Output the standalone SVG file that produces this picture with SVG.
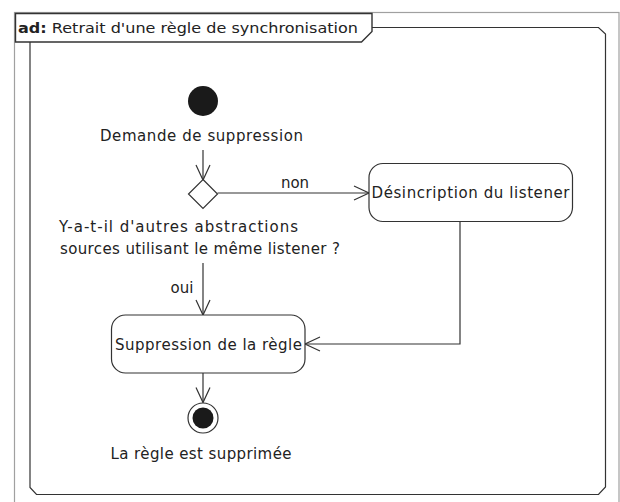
<svg xmlns="http://www.w3.org/2000/svg" width="620" height="502" viewBox="0 0 620 502">
<style>
  .t{font-family:"DejaVu Sans","Liberation Sans",sans-serif;font-size:15px;fill:#222;}
  .tt{font-family:"DejaVu Sans","Liberation Sans",sans-serif;font-size:14px;fill:#222;}
  .ln{fill:none;stroke:#333;stroke-width:1.2;}
  .nd{fill:#fff;stroke:#333;stroke-width:1.2;}
</style>
<defs>
  <marker id="arr" markerUnits="userSpaceOnUse" markerWidth="20" markerHeight="20" viewBox="-16 -10 20 20" refX="0" refY="0" orient="auto">
    <path d="M-15,-7 L0,0 L-15,7" fill="none" stroke="#333" stroke-width="1.2"/>
  </marker>
</defs>
<rect width="620" height="502" fill="#fff"/>
<g id="frame">
  <rect x="14.5" y="12.5" width="604.5" height="500" fill="none" stroke="#a0a0a0" stroke-width="1.2"/>
  <path class="ln" d="M372,27.5 H598.5 L605.5,34 V487 L598.5,494.5 H36.5 L30,487.5 V42" stroke-width="1.5"/>
  <path d="M15.5,13.5 H372 V31.5 L361.5,42 H15.5 Z" fill="#fff" stroke="#333" stroke-width="1.4"/>
  <text class="tt" x="18" y="33" textLength="340" lengthAdjust="spacingAndGlyphs"><tspan font-weight="bold">ad:</tspan> Retrait d'une règle de synchronisation</text>
</g>
<g id="connectors">
  <line class="ln" x1="203" y1="150" x2="203" y2="180" marker-end="url(#arr)"/>
  <line class="ln" x1="217.5" y1="193" x2="369" y2="193" marker-end="url(#arr)"/>
  <text class="t" x="295" y="188" text-anchor="middle">non</text>
  <polyline class="ln" points="460,222 460,344 305,344" marker-end="url(#arr)"/>
  <line class="ln" x1="203" y1="263" x2="203" y2="315" marker-end="url(#arr)"/>
  <text class="t" x="182" y="293" text-anchor="middle">oui</text>
  <line class="ln" x1="203" y1="373" x2="203" y2="402.5" marker-end="url(#arr)"/>
</g>
<g id="start">
  <circle cx="203" cy="101" r="15" fill="#1a1a1a"/>
  <text class="t" x="201.5" y="141" text-anchor="middle" textLength="203" lengthAdjust="spacing">Demande de suppression</text>
</g>
<g id="decision">
  <polygon class="nd" points="203,179.5 217.5,194 203,208.5 188.5,194"/>
  <text class="t" x="59" y="232" textLength="239" lengthAdjust="spacing">Y-a-t-il d'autres abstractions</text>
  <text class="t" x="60" y="254" textLength="280" lengthAdjust="spacing">sources utilisant le même listener ?</text>
</g>
<g id="desinscription">
  <rect class="nd" x="369" y="163.5" width="203.5" height="58" rx="14" ry="14"/>
  <text class="t" x="371.5" y="198" textLength="198" lengthAdjust="spacing">Désincription du listener</text>
</g>
<g id="suppression">
  <rect class="nd" x="111.5" y="315" width="193.5" height="58" rx="14" ry="14"/>
  <text class="t" x="115" y="350" textLength="187" lengthAdjust="spacing">Suppression de la règle</text>
</g>
<g id="end">
  <circle cx="203" cy="418" r="15" fill="#fff" stroke="#333" stroke-width="1.2"/>
  <circle cx="203" cy="418" r="10.5" fill="#1a1a1a"/>
  <text class="t" x="201" y="459" text-anchor="middle" textLength="181" lengthAdjust="spacing">La règle est supprimée</text>
</g>
</svg>
